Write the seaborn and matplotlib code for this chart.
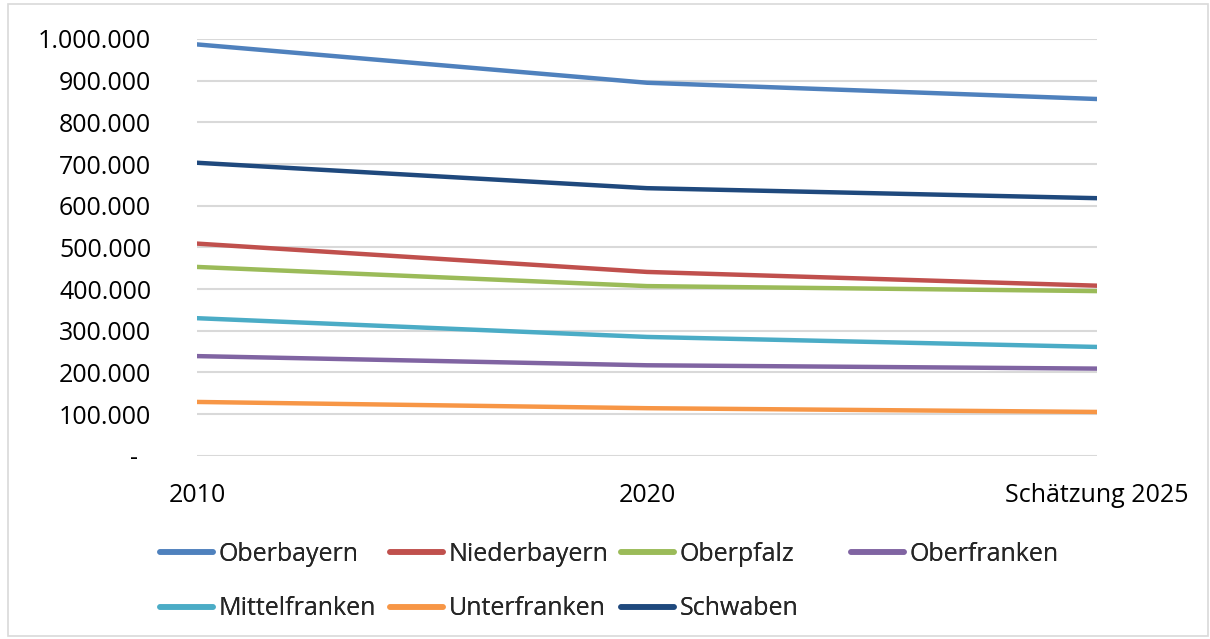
import pandas as pd
import matplotlib.pyplot as plt
import seaborn as sns
from matplotlib.lines import Line2D
from matplotlib.patches import Rectangle
from matplotlib.ticker import FuncFormatter

years = ['2010', '2020', 'Schätzung 2025']
regions = ['Oberbayern', 'Niederbayern', 'Oberpfalz', 'Oberfranken',
           'Mittelfranken', 'Unterfranken', 'Schwaben']

oberbayern = [987000, 895000, 856000]
niederbayern = [509000, 441000, 408000]
oberpfalz = [453000, 407000, 395000]
oberfranken = [239000, 217000, 209000]
mittelfranken = [330000, 285000, 261000]
unterfranken = [129000, 114000, 105000]
schwaben = [703000, 642000, 618000]

colors = ['#4F81BD', '#C0504D', '#9BBB59', '#8064A2',
          '#4BACC6', '#F79646', '#1F497D']

values = [oberbayern, niederbayern, oberpfalz, oberfranken,
          mittelfranken, unterfranken, schwaben]

rows = []
for reg, vals in zip(regions, values):
    for i, v in enumerate(vals):
        rows.append({'Jahr': i, 'Region': reg, 'Wert': v})
df = pd.DataFrame(rows)

sns.set_theme(style="white")
plt.rcParams['font.family'] = ['Open Sans', 'DejaVu Sans']

fig = plt.figure(figsize=(12.1, 6.39), dpi=100)
ax = fig.add_axes([197 / 1210, 1 - 455.7 / 639, 900 / 1210, 416.7 / 639])

sns.lineplot(data=df, x='Jahr', y='Wert', hue='Region', hue_order=regions,
             palette=dict(zip(regions, colors)), linewidth=3.2,
             legend=False, ax=ax, sort=False)

ax.set_xlim(0, 2)
ax.set_ylim(0, 1000000)
ax.set_yticks(range(0, 1000001, 100000))
ax.set_xticks([0, 1, 2])
ax.set_xticklabels(years)


def fmt(v, pos):
    if v == 0:
        return '-  '
    return f'{int(v):,}'.replace(',', '.')


ax.yaxis.set_major_formatter(FuncFormatter(fmt))
ax.grid(axis='y', color='#D9D9D9', linewidth=1.5)
ax.set_axisbelow(True)
for s in ax.spines.values():
    s.set_visible(False)
ax.tick_params(axis='y', length=0, pad=33, labelsize=18, labelcolor='black')
ax.tick_params(axis='x', length=0, pad=20, labelsize=18, labelcolor='black')
ax.set_xlabel('')
ax.set_ylabel('')

# legend in four equal-width columns like the original
col_items = [[0, 4], [1, 5], [2, 6], [3]]
col_x = [160, 390, 621, 851]
for items, x in zip(col_items, col_x):
    handles = [Line2D([0], [0], color=colors[i], linewidth=4) for i in items]
    labels = [regions[i] for i in items]
    leg = fig.legend(handles, labels, loc='upper left',
                     bbox_to_anchor=(x / 1210, 1 - 542 / 639),
                     frameon=False, fontsize=18, handlelength=2.1,
                     handletextpad=0.25, labelspacing=1.17, borderpad=0,
                     borderaxespad=0)
    fig.add_artist(leg)

fig.patches.append(Rectangle((8 / 1210, 3 / 639), 1200 / 1210, 632 / 639,
                             transform=fig.transFigure, fill=False,
                             edgecolor='#D9D9D9', linewidth=1.2))

plt.savefig('out.png', dpi=100)
